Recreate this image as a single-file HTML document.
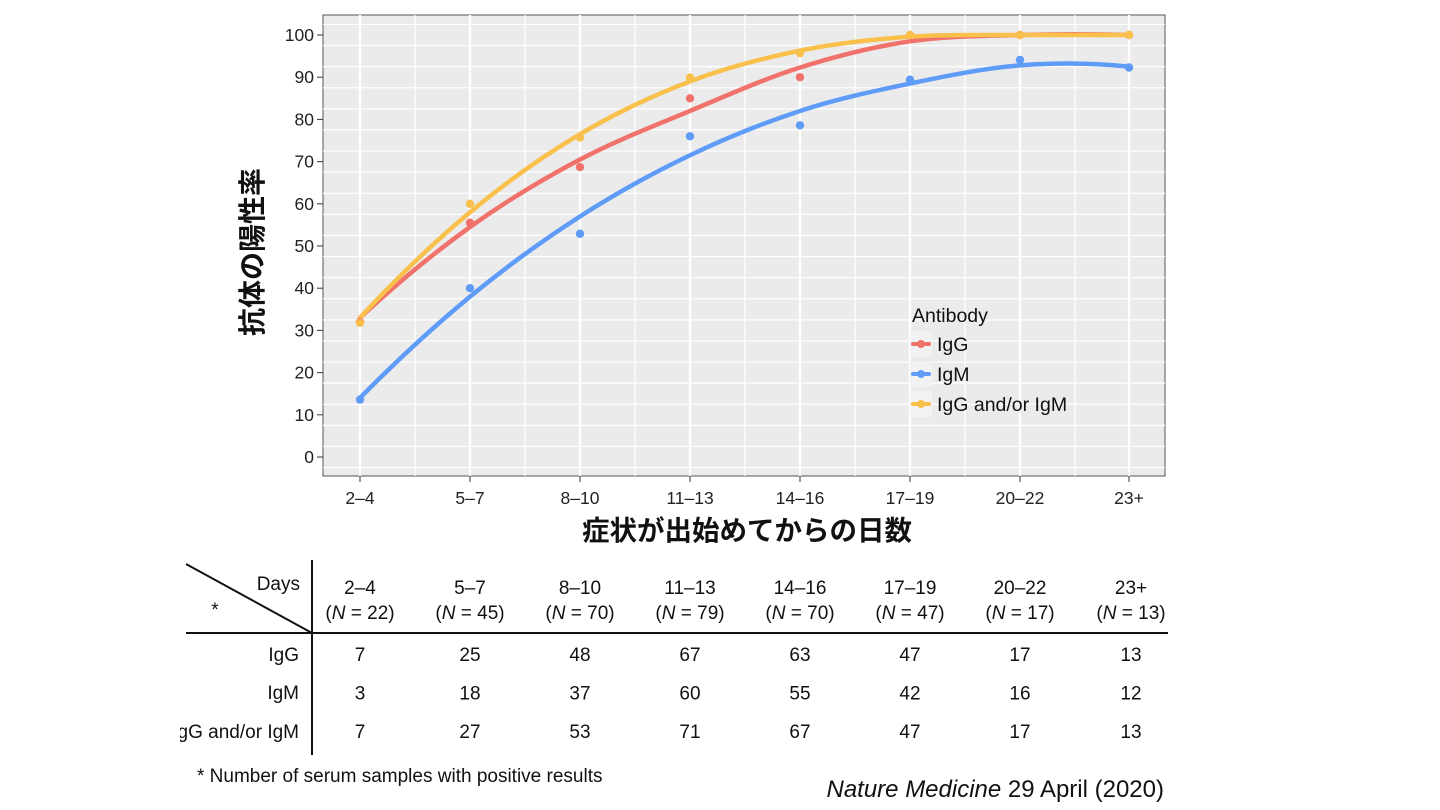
<!DOCTYPE html>
<html><head><meta charset="utf-8"><style>
html,body{margin:0;padding:0;background:#fff;width:1440px;height:810px;overflow:hidden}
svg text{font-family:"Liberation Sans","Noto Sans CJK JP",sans-serif}
</style></head><body>
<svg id="s" width="1440" height="810" xmlns="http://www.w3.org/2000/svg">
<rect x="323" y="15" width="842" height="461" fill="#ebebeb" stroke="#555" stroke-width="1"/>
<g id="grid"></g>
<g id="curves"></g>
<g id="pts"></g>
<g id="axes" font-size="17.5" fill="#222"></g>
<text x="912" y="322" font-size="19.5" fill="#111">Antibody</text>
<g stroke-width="4" stroke-linecap="round">
<rect x="910" y="331" width="22" height="26" fill="#f2f2f2"/><line x1="913" y1="344" x2="929" y2="344" stroke="#f0726b"/><circle cx="921" cy="344" r="4" fill="#f0726b"/>
<rect x="910" y="361" width="22" height="26" fill="#f2f2f2"/><line x1="913" y1="374" x2="929" y2="374" stroke="#5f9cf8"/><circle cx="921" cy="374" r="4" fill="#5f9cf8"/>
<rect x="910" y="391" width="22" height="26" fill="#f2f2f2"/><line x1="913" y1="404" x2="929" y2="404" stroke="#f9c04c"/><circle cx="921" cy="404" r="4" fill="#f9c04c"/>
</g>
<text x="937" y="351" font-size="19.5" fill="#111">IgG</text>
<text x="937" y="381" font-size="19.5" fill="#111">IgM</text>
<text x="937" y="411" font-size="19.5" fill="#111">IgG and/or IgM</text>
<text x="747" y="540" font-size="27.5" font-weight="bold" text-anchor="middle" fill="#111">症状が出始めてからの日数</text>
<text transform="translate(262,252) rotate(-90)" font-size="28" font-weight="bold" text-anchor="middle" fill="#111">抗体の陽性率</text>
<g stroke="#111" stroke-width="2">
<line x1="312" y1="560" x2="312" y2="755"/>
<line x1="186" y1="633" x2="1168" y2="633"/>
<line x1="186" y1="564" x2="312" y2="633"/>
</g>
<g id="tbl" font-size="19" fill="#111"></g>
<text x="300" y="590" font-size="19" text-anchor="end" fill="#111">Days</text>
<text x="215" y="616" font-size="19" text-anchor="middle" fill="#111">*</text>
<text x="299" y="661" font-size="19" text-anchor="end" fill="#111">IgG</text>
<text x="299" y="699" font-size="19" text-anchor="end" fill="#111">IgM</text>
<text x="299" y="738" font-size="19" text-anchor="end" fill="#111">IgG and/or IgM</text>
<rect x="0" y="712" width="180" height="40" fill="#fff"/>
<text x="197" y="782" font-size="19" fill="#111">* Number of serum samples with positive results</text>
<text x="1164" y="797" font-size="24" text-anchor="end" fill="#111"><tspan font-style="italic">Nature Medicine</tspan> 29 April (2020)</text>
</svg>
<script>
var NS="http://www.w3.org/2000/svg";
function el(p,t,a,txt){var e=document.createElementNS(NS,t);for(var k in a)e.setAttribute(k,a[k]);if(txt!==undefined)e.textContent=txt;document.getElementById(p).appendChild(e);return e;}
var X=[360,470,580,690,800,910,1020,1129];
function Y(v){return 457-4.22*v;}
for(var i=0;i<=8;i++){var xm=X[0]+110*i-55; if(xm>323&&xm<1165) el('grid','line',{x1:xm,y1:15,x2:xm,y2:476,stroke:'#fff','stroke-width':1.2});}
X.forEach(function(x){el('grid','line',{x1:x,y1:15,x2:x,y2:476,stroke:'#fff','stroke-width':2.4});});
for(var v=-2.5;v<=102.5;v+=5){var y=Y(v);var maj=(Math.abs(v%10)<0.01);el('grid','line',{x1:323,y1:y,x2:1165,y2:y,stroke:'#fff','stroke-width':maj?2.4:1.2});}
for(var v=0;v<=100;v+=10){var y=Y(v);el('axes','line',{x1:317,y1:y,x2:323,y2:y,stroke:'#333'});el('axes','text',{x:314,y:y+6,'text-anchor':'end'},v);}
var L=['2–4','5–7','8–10','11–13','14–16','17–19','20–22','23+'];
X.forEach(function(x,i){el('axes','line',{x1:x,y1:476,x2:x,y2:482,stroke:'#333'});el('axes','text',{x:x,y:504,'text-anchor':'middle'},L[i]);});
var C={
'#f0726b':[[33,54.5,70.5,82,92.3,98.5,100,100],[32,55.5,68.7,85,90,100,100,100]],
'#5f9cf8':[[14,38,57,71.5,82,88.5,92.8,92.5],[13.6,40,52.9,76,78.6,89.4,94.1,92.3]],
'#f9c04c':[[33,58,76.5,89,96.3,99.6,100,100],[31.8,60,75.7,89.9,95.7,100,100,100]]};
['#f0726b','#5f9cf8','#f9c04c'].forEach(function(c){
 var v=C[c][0],P=X.map(function(x,i){return [x,Y(v[i])];});
 var n=P.length;
 var pre=[3*P[0][0]-3*P[1][0]+P[2][0],3*P[0][1]-3*P[1][1]+P[2][1]];
 var post=[3*P[n-1][0]-3*P[n-2][0]+P[n-3][0],3*P[n-1][1]-3*P[n-2][1]+P[n-3][1]];
 var Q=[pre].concat(P,[post]);
 var d='M'+P[0][0]+','+P[0][1];
 for(var i=1;i<Q.length-2;i++){var p0=Q[i-1],p1=Q[i],p2=Q[i+1],p3=Q[i+2];
  d+=' C'+(p1[0]+(p2[0]-p0[0])/6)+','+(p1[1]+(p2[1]-p0[1])/6)+' '+(p2[0]-(p3[0]-p1[0])/6)+','+(p2[1]-(p3[1]-p1[1])/6)+' '+p2[0]+','+p2[1];}
 el('curves','path',{d:d,fill:'none',stroke:c,'stroke-width':4.5,'stroke-linecap':'round'});
 C[c][1].forEach(function(pv,i){el('pts','circle',{cx:X[i],cy:Y(pv),r:4.2,fill:c});});
});
var CX=[360,470,580,690,800,910,1020,1131];
var N=[22,45,70,79,70,47,17,13];
var R=[[7,25,48,67,63,47,17,13],[3,18,37,60,55,42,16,12],[7,27,53,71,67,47,17,13]];
CX.forEach(function(x,i){
 el('tbl','text',{x:x,y:594,'text-anchor':'middle'},L[i]);
 var t=el('tbl','text',{x:x,y:619,'text-anchor':'middle'});
 t.innerHTML='(<tspan font-style="italic">N</tspan> = '+N[i]+')';
 R.forEach(function(r,j){el('tbl','text',{x:x,y:661+j*38.5,'text-anchor':'middle'},r[i]);});
});
</script>
</body></html>
